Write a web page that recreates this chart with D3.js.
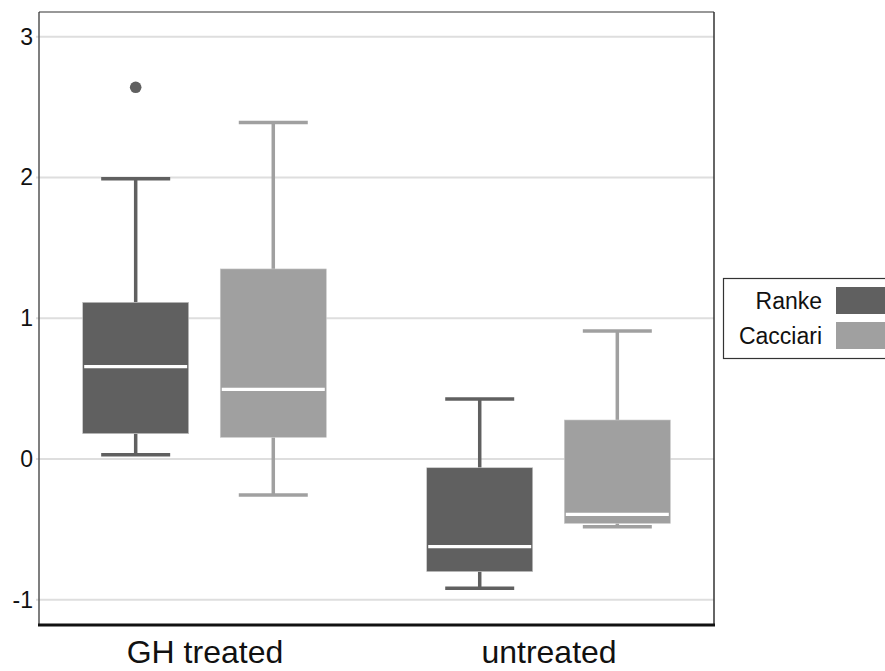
<!DOCTYPE html>
<html>
<head>
<meta charset="utf-8">
<script src="https://cdn.jsdelivr.net/npm/d3@7"></script>
<style>
  html, body { margin: 0; padding: 0; background: #fff; overflow: hidden; }
  svg { display: block; font-family: "Liberation Sans", Arial, sans-serif; }
</style>
</head>
<body>
<svg id="chart" width="885" height="671"></svg>
<script>
// ---- data ----
const groups = ["GH treated", "untreated"];
const series = ["Ranke", "Cacciari"];
const seriesColors = ["#606060", "#a0a0a0"];
// [whiskerLow, q1, median, q3, whiskerHigh] per group, per series
const rankeStats = [
  [0.03, 0.18, 0.656, 1.113, 1.99],
  [-0.918, -0.80, -0.623, -0.062, 0.426]
];
const cacciariStats = [
  [-0.256, 0.154, 0.495, 1.35, 2.39],
  [-0.481, -0.457, -0.393, 0.277, 0.909]
];
const rankeOutliers = [[2.64], []];
const cacciariOutliers = [[], []];
const yTicks = [-1, 0, 1, 2, 3];
const yTickLabels = ["-1", "0", "1", "2", "3"];

// ---- layout ----
const svg = d3.select("#chart");
const L = 39, R = 714, T = 12, B = 625;

const y = d3.scaleLinear().domain([-1.179, 3.175]).range([B, T]);
const x = d3.scalePoint().domain(groups).range([L, R]).padding(0.481);
const dodge = d3.scalePoint().domain(series).range([-68.8, 68.8]);
const color = d3.scaleOrdinal().domain(series).range(seriesColors);
const boxW = 106, capW = 69;

// gridlines
svg.append("g").selectAll("line").data(yTicks).join("line")
  .attr("x1", L - 3).attr("x2", R)
  .attr("y1", d => y(d)).attr("y2", d => y(d))
  .attr("stroke", "#dedede").attr("stroke-width", 2);

// y axis labels
const yAxis = d3.axisLeft(y).tickValues(yTicks).tickSize(0).tickPadding(6)
  .tickFormat((d, i) => yTickLabels[i]);
const ya = svg.append("g").attr("transform", `translate(${L},0)`).call(yAxis);
ya.select(".domain").remove();
ya.selectAll("text").attr("font-size", 23).attr("fill", "#111")
  .attr("font-family", "'Liberation Sans', Arial, sans-serif");

// build box records
const records = [];
groups.forEach((g, gi) => {
  records.push({ group: g, s: "Ranke", st: rankeStats[gi], out: rankeOutliers[gi] });
  records.push({ group: g, s: "Cacciari", st: cacciariStats[gi], out: cacciariOutliers[gi] });
});

const boxes = svg.append("g").selectAll("g").data(records).join("g")
  .attr("transform", d => `translate(${x(d.group) + dodge(d.s)},0)`);

// whisker vertical lines
boxes.append("line").attr("x1", 0).attr("x2", 0)
  .attr("y1", d => y(d.st[0])).attr("y2", d => y(d.st[1]))
  .attr("stroke", d => color(d.s)).attr("stroke-width", 3.5);
boxes.append("line").attr("x1", 0).attr("x2", 0)
  .attr("y1", d => y(d.st[3])).attr("y2", d => y(d.st[4]))
  .attr("stroke", d => color(d.s)).attr("stroke-width", 3.5);
// caps
boxes.append("line").attr("x1", -capW / 2).attr("x2", capW / 2)
  .attr("y1", d => y(d.st[0])).attr("y2", d => y(d.st[0]))
  .attr("stroke", d => color(d.s)).attr("stroke-width", 3.5);
boxes.append("line").attr("x1", -capW / 2).attr("x2", capW / 2)
  .attr("y1", d => y(d.st[4])).attr("y2", d => y(d.st[4]))
  .attr("stroke", d => color(d.s)).attr("stroke-width", 3.5);
// box
boxes.append("rect").attr("x", -boxW / 2).attr("width", boxW)
  .attr("y", d => y(d.st[3])).attr("height", d => y(d.st[1]) - y(d.st[3]))
  .attr("fill", d => color(d.s)).attr("stroke", "#c8c8c8").attr("stroke-width", 0.6);
// median
boxes.append("line").attr("x1", -boxW / 2 + 1.5).attr("x2", boxW / 2 - 1.5)
  .attr("y1", d => y(d.st[2])).attr("y2", d => y(d.st[2]))
  .attr("stroke", "#fff").attr("stroke-width", 3.3);
// outliers
boxes.selectAll("circle").data(d => d.out.map(v => ({ v, s: d.s }))).join("circle")
  .attr("cx", 0).attr("cy", d => y(d.v)).attr("r", 5.8)
  .attr("fill", d => color(d.s));

// frame
svg.append("line").attr("x1", L).attr("x2", L).attr("y1", T).attr("y2", B)
  .attr("stroke", "#555").attr("stroke-width", 1.5);
svg.append("line").attr("x1", L).attr("x2", R).attr("y1", T).attr("y2", T)
  .attr("stroke", "#333").attr("stroke-width", 1.2);
svg.append("line").attr("x1", R).attr("x2", R).attr("y1", T).attr("y2", B)
  .attr("stroke", "#333").attr("stroke-width", 1.5);
svg.append("line").attr("x1", L - 1).attr("x2", R + 1).attr("y1", B).attr("y2", B)
  .attr("stroke", "#111").attr("stroke-width", 3);

// x axis labels
const xAxis = d3.axisBottom(x).tickSize(0).tickPadding(0);
const xa = svg.append("g").attr("transform", `translate(0,${B})`).call(xAxis);
xa.select(".domain").remove();
xa.selectAll("text").attr("font-size", 32).attr("fill", "#111").attr("dy", null)
  .attr("y", 38).attr("font-family", "'Liberation Sans', Arial, sans-serif");

// legend
const lg = svg.append("g");
lg.append("rect").attr("x", 723.5).attr("y", 278.5).attr("width", 200).attr("height", 80)
  .attr("fill", "#fff").attr("stroke", "#333").attr("stroke-width", 1.2);
const items = lg.selectAll("g").data(series).join("g")
  .attr("transform", (d, i) => `translate(0,${287 + i * 35})`);
items.append("rect").attr("x", 836).attr("y", 0).attr("width", 60).attr("height", 27)
  .attr("fill", d => color(d));
items.append("text").attr("x", 822).attr("y", 22).attr("text-anchor", "end")
  .attr("font-size", 23).attr("fill", "#111").text(d => d);
</script>
</body>
</html>
